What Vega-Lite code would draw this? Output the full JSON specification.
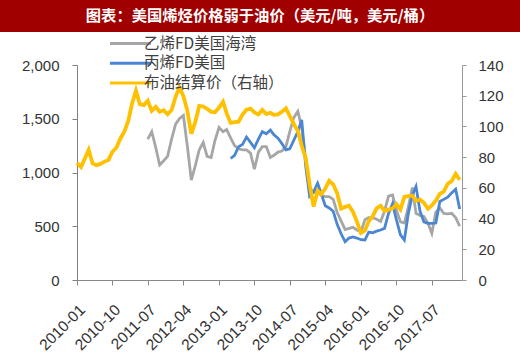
{
  "$schema": "https://vega.github.io/schema/vega-lite/v6.json",
  "padding": 0,
  "background": "white",
  "spacing": 26,
  "config": {"view": {"stroke": null}, "font": "Liberation Sans"},
  "vconcat": [
    {
      "width": 520,
      "height": 32,
      "view": {"fill": "#a00000", "stroke": null},
      "data": {"values": [{"t": "图表：美国烯烃价格弱于油价（美元/吨，美元/桶）"}]},
      "mark": {"type": "text", "color": "white", "font": "Noto Sans CJK SC", "fontWeight": "bold", "fontSize": 15.3},
      "encoding": {"text": {"field": "t"}}
    },
    {
      "width": 520,
      "height": 215,
      "data": {"values": [
        {"date":"2010-01","series":"布油结算价（右轴）","value":76.2},
        {"date":"2010-02","series":"布油结算价（右轴）","value":73.6},
        {"date":"2010-03","series":"布油结算价（右轴）","value":78.8},
        {"date":"2010-04","series":"布油结算价（右轴）","value":84.8},
        {"date":"2010-05","series":"布油结算价（右轴）","value":75.9},
        {"date":"2010-06","series":"布油结算价（右轴）","value":74.8},
        {"date":"2010-07","series":"布油结算价（右轴）","value":75.6},
        {"date":"2010-08","series":"布油结算价（右轴）","value":77.1},
        {"date":"2010-09","series":"布油结算价（右轴）","value":78.2},
        {"date":"2010-10","series":"布油结算价（右轴）","value":83.5},
        {"date":"2010-11","series":"布油结算价（右轴）","value":86.1},
        {"date":"2010-12","series":"布油结算价（右轴）","value":92.0},
        {"date":"2011-01","series":"布油结算价（右轴）","value":96.5},
        {"date":"2011-02","series":"布油结算价（右轴）","value":103.7},
        {"date":"2011-03","series":"布油结算价（右轴）","value":114.6},
        {"date":"2011-04","series":"布油结算价（右轴）","value":123.3},
        {"date":"2011-05","series":"布油结算价（右轴）","value":114.5},
        {"date":"2011-06","series":"布油结算价（右轴）","value":113.9},
        {"date":"2011-07","series":"布油结算价（右轴）","value":116.7},
        {"date":"2011-08","series":"布油结算价（右轴）","value":110.1},
        {"date":"2011-09","series":"布油结算价（右轴）","value":112.8},
        {"date":"2011-10","series":"布油结算价（右轴）","value":109.6},
        {"date":"2011-11","series":"布油结算价（右轴）","value":110.5},
        {"date":"2011-12","series":"布油结算价（右轴）","value":107.9},
        {"date":"2012-01","series":"布油结算价（右轴）","value":110.7},
        {"date":"2012-02","series":"布油结算价（右轴）","value":119.3},
        {"date":"2012-03","series":"布油结算价（右轴）","value":125.5},
        {"date":"2012-04","series":"布油结算价（右轴）","value":119.8},
        {"date":"2012-05","series":"布油结算价（右轴）","value":110.3},
        {"date":"2012-06","series":"布油结算价（右轴）","value":95.2},
        {"date":"2012-07","series":"布油结算价（右轴）","value":102.6},
        {"date":"2012-08","series":"布油结算价（右轴）","value":113.4},
        {"date":"2012-09","series":"布油结算价（右轴）","value":113.0},
        {"date":"2012-10","series":"布油结算价（右轴）","value":111.5},
        {"date":"2012-11","series":"布油结算价（右轴）","value":109.5},
        {"date":"2012-12","series":"布油结算价（右轴）","value":109.2},
        {"date":"2013-01","series":"布油结算价（右轴）","value":112.3},
        {"date":"2013-02","series":"布油结算价（右轴）","value":116.1},
        {"date":"2013-03","series":"布油结算价（右轴）","value":108.5},
        {"date":"2013-04","series":"布油结算价（右轴）","value":102.3},
        {"date":"2013-05","series":"布油结算价（右轴）","value":102.8},
        {"date":"2013-06","series":"布油结算价（右轴）","value":103.1},
        {"date":"2013-07","series":"布油结算价（右轴）","value":107.7},
        {"date":"2013-08","series":"布油结算价（右轴）","value":110.9},
        {"date":"2013-09","series":"布油结算价（右轴）","value":111.6},
        {"date":"2013-10","series":"布油结算价（右轴）","value":109.1},
        {"date":"2013-11","series":"布油结算价（右轴）","value":107.8},
        {"date":"2013-12","series":"布油结算价（右轴）","value":110.8},
        {"date":"2014-01","series":"布油结算价（右轴）","value":108.1},
        {"date":"2014-02","series":"布油结算价（右轴）","value":108.9},
        {"date":"2014-03","series":"布油结算价（右轴）","value":107.5},
        {"date":"2014-04","series":"布油结算价（右轴）","value":107.8},
        {"date":"2014-05","series":"布油结算价（右轴）","value":109.5},
        {"date":"2014-06","series":"布油结算价（右轴）","value":111.8},
        {"date":"2014-07","series":"布油结算价（右轴）","value":106.8},
        {"date":"2014-08","series":"布油结算价（右轴）","value":101.6},
        {"date":"2014-09","series":"布油结算价（右轴）","value":97.1},
        {"date":"2014-10","series":"布油结算价（右轴）","value":87.4},
        {"date":"2014-11","series":"布油结算价（右轴）","value":79.4},
        {"date":"2014-12","series":"布油结算价（右轴）","value":62.3},
        {"date":"2015-01","series":"布油结算价（右轴）","value":47.8},
        {"date":"2015-02","series":"布油结算价（右轴）","value":58.1},
        {"date":"2015-03","series":"布油结算价（右轴）","value":55.9},
        {"date":"2015-04","series":"布油结算价（右轴）","value":59.5},
        {"date":"2015-05","series":"布油结算价（右轴）","value":64.6},
        {"date":"2015-06","series":"布油结算价（右轴）","value":62.3},
        {"date":"2015-07","series":"布油结算价（右轴）","value":56.6},
        {"date":"2015-08","series":"布油结算价（右轴）","value":46.5},
        {"date":"2015-09","series":"布油结算价（右轴）","value":47.6},
        {"date":"2015-10","series":"布油结算价（右轴）","value":48.4},
        {"date":"2015-11","series":"布油结算价（右轴）","value":44.3},
        {"date":"2015-12","series":"布油结算价（右轴）","value":38.0},
        {"date":"2016-01","series":"布油结算价（右轴）","value":30.7},
        {"date":"2016-02","series":"布油结算价（右轴）","value":32.2},
        {"date":"2016-03","series":"布油结算价（右轴）","value":38.2},
        {"date":"2016-04","series":"布油结算价（右轴）","value":41.6},
        {"date":"2016-05","series":"布油结算价（右轴）","value":46.7},
        {"date":"2016-06","series":"布油结算价（右轴）","value":48.3},
        {"date":"2016-07","series":"布油结算价（右轴）","value":44.9},
        {"date":"2016-08","series":"布油结算价（右轴）","value":45.8},
        {"date":"2016-09","series":"布油结算价（右轴）","value":46.6},
        {"date":"2016-10","series":"布油结算价（右轴）","value":49.3},
        {"date":"2016-11","series":"布油结算价（右轴）","value":45.9},
        {"date":"2016-12","series":"布油结算价（右轴）","value":54.1},
        {"date":"2017-01","series":"布油结算价（右轴）","value":54.6},
        {"date":"2017-02","series":"布油结算价（右轴）","value":54.9},
        {"date":"2017-03","series":"布油结算价（右轴）","value":51.6},
        {"date":"2017-04","series":"布油结算价（右轴）","value":52.3},
        {"date":"2017-05","series":"布油结算价（右轴）","value":50.3},
        {"date":"2017-06","series":"布油结算价（右轴）","value":46.4},
        {"date":"2017-07","series":"布油结算价（右轴）","value":48.5},
        {"date":"2017-08","series":"布油结算价（右轴）","value":51.7},
        {"date":"2017-09","series":"布油结算价（右轴）","value":56.2},
        {"date":"2017-10","series":"布油结算价（右轴）","value":57.5},
        {"date":"2017-11","series":"布油结算价（右轴）","value":62.7},
        {"date":"2017-12","series":"布油结算价（右轴）","value":64.4},
        {"date":"2018-01","series":"布油结算价（右轴）","value":69.1},
        {"date":"2018-02","series":"布油结算价（右轴）","value":65.3},
        {"date":"2011-07","series":"乙烯FD美国海湾","value":1310},
        {"date":"2011-08","series":"乙烯FD美国海湾","value":1380},
        {"date":"2011-09","series":"乙烯FD美国海湾","value":1230},
        {"date":"2011-10","series":"乙烯FD美国海湾","value":1070},
        {"date":"2011-11","series":"乙烯FD美国海湾","value":1110},
        {"date":"2011-12","series":"乙烯FD美国海湾","value":1150},
        {"date":"2012-01","series":"乙烯FD美国海湾","value":1310},
        {"date":"2012-02","series":"乙烯FD美国海湾","value":1450},
        {"date":"2012-03","series":"乙烯FD美国海湾","value":1500},
        {"date":"2012-04","series":"乙烯FD美国海湾","value":1530},
        {"date":"2012-05","series":"乙烯FD美国海湾","value":1250},
        {"date":"2012-06","series":"乙烯FD美国海湾","value":930},
        {"date":"2012-07","series":"乙烯FD美国海湾","value":1060},
        {"date":"2012-08","series":"乙烯FD美国海湾","value":1210},
        {"date":"2012-09","series":"乙烯FD美国海湾","value":1280},
        {"date":"2012-10","series":"乙烯FD美国海湾","value":1150},
        {"date":"2012-11","series":"乙烯FD美国海湾","value":1140},
        {"date":"2012-12","series":"乙烯FD美国海湾","value":1300},
        {"date":"2013-01","series":"乙烯FD美国海湾","value":1420},
        {"date":"2013-02","series":"乙烯FD美国海湾","value":1380},
        {"date":"2013-03","series":"乙烯FD美国海湾","value":1400},
        {"date":"2013-04","series":"乙烯FD美国海湾","value":1320},
        {"date":"2013-05","series":"乙烯FD美国海湾","value":1250},
        {"date":"2013-06","series":"乙烯FD美国海湾","value":1220},
        {"date":"2013-07","series":"乙烯FD美国海湾","value":1210},
        {"date":"2013-08","series":"乙烯FD美国海湾","value":1210},
        {"date":"2013-09","series":"乙烯FD美国海湾","value":1180},
        {"date":"2013-10","series":"乙烯FD美国海湾","value":1030},
        {"date":"2013-11","series":"乙烯FD美国海湾","value":1190},
        {"date":"2013-12","series":"乙烯FD美国海湾","value":1240},
        {"date":"2014-01","series":"乙烯FD美国海湾","value":1240},
        {"date":"2014-02","series":"乙烯FD美国海湾","value":1140},
        {"date":"2014-03","series":"乙烯FD美国海湾","value":1160},
        {"date":"2014-04","series":"乙烯FD美国海湾","value":1190},
        {"date":"2014-05","series":"乙烯FD美国海湾","value":1200},
        {"date":"2014-06","series":"乙烯FD美国海湾","value":1240},
        {"date":"2014-07","series":"乙烯FD美国海湾","value":1380},
        {"date":"2014-08","series":"乙烯FD美国海湾","value":1510},
        {"date":"2014-09","series":"乙烯FD美国海湾","value":1570},
        {"date":"2014-10","series":"乙烯FD美国海湾","value":1420},
        {"date":"2014-11","series":"乙烯FD美国海湾","value":1120},
        {"date":"2014-12","series":"乙烯FD美国海湾","value":850},
        {"date":"2015-01","series":"乙烯FD美国海湾","value":820},
        {"date":"2015-02","series":"乙烯FD美国海湾","value":806},
        {"date":"2015-03","series":"乙烯FD美国海湾","value":790},
        {"date":"2015-04","series":"乙烯FD美国海湾","value":775},
        {"date":"2015-05","series":"乙烯FD美国海湾","value":775},
        {"date":"2015-06","series":"乙烯FD美国海湾","value":750},
        {"date":"2015-07","series":"乙烯FD美国海湾","value":630},
        {"date":"2015-08","series":"乙烯FD美国海湾","value":550},
        {"date":"2015-09","series":"乙烯FD美国海湾","value":470},
        {"date":"2015-10","series":"乙烯FD美国海湾","value":480},
        {"date":"2015-11","series":"乙烯FD美国海湾","value":490},
        {"date":"2015-12","series":"乙烯FD美国海湾","value":465},
        {"date":"2016-01","series":"乙烯FD美国海湾","value":450},
        {"date":"2016-02","series":"乙烯FD美国海湾","value":560},
        {"date":"2016-03","series":"乙烯FD美国海湾","value":580},
        {"date":"2016-04","series":"乙烯FD美国海湾","value":580},
        {"date":"2016-05","series":"乙烯FD美国海湾","value":565},
        {"date":"2016-06","series":"乙烯FD美国海湾","value":545},
        {"date":"2016-07","series":"乙烯FD美国海湾","value":640},
        {"date":"2016-08","series":"乙烯FD美国海湾","value":780},
        {"date":"2016-09","series":"乙烯FD美国海湾","value":790},
        {"date":"2016-10","series":"乙烯FD美国海湾","value":650},
        {"date":"2016-11","series":"乙烯FD美国海湾","value":540},
        {"date":"2016-12","series":"乙烯FD美国海湾","value":530},
        {"date":"2017-01","series":"乙烯FD美国海湾","value":680},
        {"date":"2017-02","series":"乙烯FD美国海湾","value":860},
        {"date":"2017-03","series":"乙烯FD美国海湾","value":620},
        {"date":"2017-04","series":"乙烯FD美国海湾","value":600},
        {"date":"2017-05","series":"乙烯FD美国海湾","value":590},
        {"date":"2017-06","series":"乙烯FD美国海湾","value":530},
        {"date":"2017-07","series":"乙烯FD美国海湾","value":434},
        {"date":"2017-08","series":"乙烯FD美国海湾","value":630},
        {"date":"2017-09","series":"乙烯FD美国海湾","value":670},
        {"date":"2017-10","series":"乙烯FD美国海湾","value":620},
        {"date":"2017-11","series":"乙烯FD美国海湾","value":615},
        {"date":"2017-12","series":"乙烯FD美国海湾","value":620},
        {"date":"2018-01","series":"乙烯FD美国海湾","value":580},
        {"date":"2018-02","series":"乙烯FD美国海湾","value":500},
        {"date":"2013-04","series":"丙烯FD美国","value":1130},
        {"date":"2013-05","series":"丙烯FD美国","value":1160},
        {"date":"2013-06","series":"丙烯FD美国","value":1240},
        {"date":"2013-07","series":"丙烯FD美国","value":1260},
        {"date":"2013-08","series":"丙烯FD美国","value":1330},
        {"date":"2013-09","series":"丙烯FD美国","value":1280},
        {"date":"2013-10","series":"丙烯FD美国","value":1230},
        {"date":"2013-11","series":"丙烯FD美国","value":1310},
        {"date":"2013-12","series":"丙烯FD美国","value":1380},
        {"date":"2014-01","series":"丙烯FD美国","value":1360},
        {"date":"2014-02","series":"丙烯FD美国","value":1395},
        {"date":"2014-03","series":"丙烯FD美国","value":1350},
        {"date":"2014-04","series":"丙烯FD美国","value":1320},
        {"date":"2014-05","series":"丙烯FD美国","value":1270},
        {"date":"2014-06","series":"丙烯FD美国","value":1210},
        {"date":"2014-07","series":"丙烯FD美国","value":1220},
        {"date":"2014-08","series":"丙烯FD美国","value":1300},
        {"date":"2014-09","series":"丙烯FD美国","value":1380},
        {"date":"2014-10","series":"丙烯FD美国","value":1490},
        {"date":"2014-11","series":"丙烯FD美国","value":1060},
        {"date":"2014-12","series":"丙烯FD美国","value":780},
        {"date":"2015-01","series":"丙烯FD美国","value":820},
        {"date":"2015-02","series":"丙烯FD美国","value":900},
        {"date":"2015-03","series":"丙烯FD美国","value":800},
        {"date":"2015-04","series":"丙烯FD美国","value":690},
        {"date":"2015-05","series":"丙烯FD美国","value":670},
        {"date":"2015-06","series":"丙烯FD美国","value":640},
        {"date":"2015-07","series":"丙烯FD美国","value":520},
        {"date":"2015-08","series":"丙烯FD美国","value":430},
        {"date":"2015-09","series":"丙烯FD美国","value":356},
        {"date":"2015-10","series":"丙烯FD美国","value":390},
        {"date":"2015-11","series":"丙烯FD美国","value":400},
        {"date":"2015-12","series":"丙烯FD美国","value":390},
        {"date":"2016-01","series":"丙烯FD美国","value":375},
        {"date":"2016-02","series":"丙烯FD美国","value":372},
        {"date":"2016-03","series":"丙烯FD美国","value":445},
        {"date":"2016-04","series":"丙烯FD美国","value":440},
        {"date":"2016-05","series":"丙烯FD美国","value":455},
        {"date":"2016-06","series":"丙烯FD美国","value":465},
        {"date":"2016-07","series":"丙烯FD美国","value":480},
        {"date":"2016-08","series":"丙烯FD美国","value":620},
        {"date":"2016-09","series":"丙烯FD美国","value":710},
        {"date":"2016-10","series":"丙烯FD美国","value":560},
        {"date":"2016-11","series":"丙烯FD美国","value":420},
        {"date":"2016-12","series":"丙烯FD美国","value":372},
        {"date":"2017-01","series":"丙烯FD美国","value":620},
        {"date":"2017-02","series":"丙烯FD美国","value":790},
        {"date":"2017-03","series":"丙烯FD美国","value":870},
        {"date":"2017-04","series":"丙烯FD美国","value":640},
        {"date":"2017-05","series":"丙烯FD美国","value":540},
        {"date":"2017-06","series":"丙烯FD美国","value":527},
        {"date":"2017-07","series":"丙烯FD美国","value":527},
        {"date":"2017-08","series":"丙烯FD美国","value":530},
        {"date":"2017-09","series":"丙烯FD美国","value":730},
        {"date":"2017-10","series":"丙烯FD美国","value":750},
        {"date":"2017-11","series":"丙烯FD美国","value":770},
        {"date":"2017-12","series":"丙烯FD美国","value":810},
        {"date":"2018-01","series":"丙烯FD美国","value":845},
        {"date":"2018-02","series":"丙烯FD美国","value":660}
      ]},
      "encoding": {
        "x": {
          "field": "date", "type": "temporal",
          "scale": {"type": "utc", "range": [77, 462], "domain": [{"year": 2010, "month": 1, "date": 1, "utc": true}, {"year": 2018, "month": 2, "date": 19, "utc": true}]},
          "axis": {
            "title": null, "grid": false, "format": "%Y-%m", "labelAngle": -45,
            "values": [
              {"year": 2010, "month": 1, "date": 1, "utc": true},
              {"year": 2010, "month": 10, "date": 1, "utc": true},
              {"year": 2011, "month": 7, "date": 1, "utc": true},
              {"year": 2012, "month": 4, "date": 1, "utc": true},
              {"year": 2013, "month": 1, "date": 1, "utc": true},
              {"year": 2013, "month": 10, "date": 1, "utc": true},
              {"year": 2014, "month": 7, "date": 1, "utc": true},
              {"year": 2015, "month": 4, "date": 1, "utc": true},
              {"year": 2016, "month": 1, "date": 1, "utc": true},
              {"year": 2016, "month": 10, "date": 1, "utc": true},
              {"year": 2017, "month": 7, "date": 1, "utc": true}
            ],
            "domainColor": "#888888", "tickColor": "#888888", "tickSize": 5,
            "labelFontSize": 15.5, "labelColor": "#333333", "labelPadding": 17, "labelOverlap": false, "labelFlush": false
          }
        },
        "color": {
          "field": "series", "type": "nominal",
          "scale": {"domain": ["乙烯FD美国海湾", "丙烯FD美国", "布油结算价（右轴）"], "range": ["#a6a6a6", "#4a86d2", "#ffc000"]},
          "legend": {
            "title": null, "orient": "none", "legendX": 122, "legendY": 35, "padding": 0,
            "symbolType": "M-3,0H3", "symbolSize": 187, "symbolStrokeWidth": 3,
            "labelFont": "Noto Sans CJK SC", "labelFontSize": 15.5, "labelColor": "#404040",
            "labelOffset": 5, "rowPadding": 2.8
          }
        }
      },
      "layer": [
        {
          "transform": [{"filter": "datum.series !== '布油结算价（右轴）'"}],
          "mark": {"type": "line", "strokeWidth": 2.8},
          "encoding": {
            "y": {
              "field": "value", "type": "quantitative",
              "scale": {"domain": [0, 2000], "nice": false},
              "axis": {
                "orient": "left", "offset": -77, "title": null, "grid": false, "values": [0, 500, 1000, 1500, 2000], "format": ",.0f",
                "domainColor": "#808080", "tickColor": "#808080", "tickSize": 5, "labelPadding": 13,
                "labelFontSize": 15, "labelColor": "#333333"
              }
            }
          }
        },
        {
          "transform": [{"filter": "datum.series === '布油结算价（右轴）'"}],
          "mark": {"type": "line", "strokeWidth": 3.8},
          "encoding": {
            "y": {
              "field": "value", "type": "quantitative",
              "scale": {"domain": [0, 140], "nice": false},
              "axis": {
                "orient": "right", "offset": -58, "title": null, "grid": false, "values": [0, 20, 40, 60, 80, 100, 120, 140],
                "domainColor": "#999999", "tickColor": "#999999", "tickSize": 4, "labelPadding": 12,
                "labelFontSize": 15, "labelColor": "#333333"
              }
            }
          }
        }
      ],
      "resolve": {"scale": {"y": "independent"}}
    }
  ]
}
